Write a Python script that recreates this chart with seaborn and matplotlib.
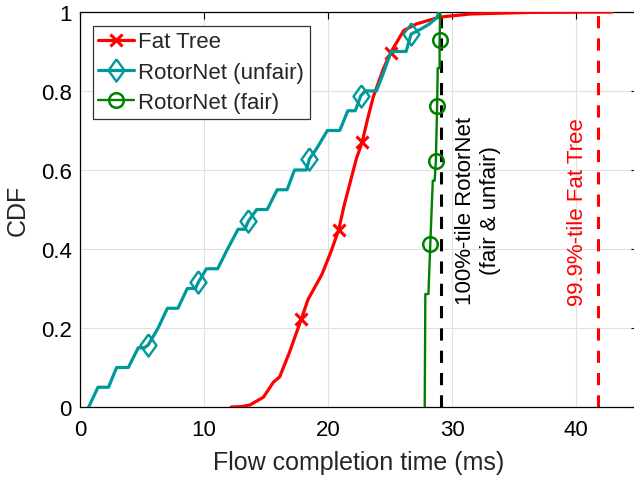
import matplotlib
matplotlib.use("Agg")
import matplotlib.pyplot as plt
import seaborn as sns
import pandas as pd
from matplotlib.ticker import FixedLocator, FixedFormatter

# ---------------- data ----------------
fat_x = [12.2, 13.0, 13.7, 14.8, 15.6, 16.1, 16.9, 17.85, 18.4, 19.5, 20.2, 20.85,
         21.3, 21.8, 22.3, 22.75, 23.2, 23.65, 24.45, 25.05, 26.1, 27.15, 29.0,
         31.5, 36.3, 42.9]
fat_y = [0.0, 0.001, 0.005, 0.025, 0.063, 0.076, 0.139, 0.223, 0.273, 0.335, 0.39, 0.447,
         0.51, 0.57, 0.63, 0.67, 0.73, 0.785, 0.855, 0.897, 0.953, 0.97, 0.987,
         0.995, 0.999, 1.0]
fat_marks = [7, 11, 15, 19]

unfair_x = [0.7, 1.45, 2.3, 2.95, 3.9, 4.7, 5.2, 5.5, 6.3, 7.05, 7.9, 8.65, 9.3, 9.55,
            10.2, 11.1, 11.9, 12.75, 13.3, 13.57, 14.25, 15.1, 15.9, 16.7, 17.3, 18.25,
            18.5, 19.1, 19.95, 20.95, 21.6, 22.2, 22.65, 23.0, 23.9, 24.4, 25.1, 26.3,
            26.7, 27.5, 28.2, 28.8, 28.95]
unfair_y = [0.0, 0.05, 0.05, 0.10, 0.10, 0.15, 0.15, 0.157, 0.20, 0.25, 0.25, 0.30, 0.30, 0.316,
            0.35, 0.35, 0.40, 0.45, 0.45, 0.47, 0.50, 0.50, 0.55, 0.55, 0.60, 0.60,
            0.628, 0.655, 0.70, 0.70, 0.75, 0.75, 0.788, 0.80, 0.80, 0.84, 0.90, 0.90,
            0.944, 0.957, 0.97, 0.987, 1.0]
unfair_marks = [7, 13, 19, 26, 32, 38]

fair_x = [27.8, 27.85, 28.1, 28.25, 28.45, 28.6, 28.7, 28.8, 28.85, 29.0, 29.0, 29.05]
fair_y = [0.0, 0.286, 0.286, 0.413, 0.573, 0.573, 0.624, 0.763, 0.858, 0.858, 0.93, 1.0]
fair_marks = [3, 6, 7, 10]

rotor_p100 = 29.15
fat_p999 = 41.8

series_names = ["Fat Tree", "RotorNet (unfair)", "RotorNet (fair)"]
x_ticks = [0, 10, 20, 30, 40]
y_ticks = [0, 0.2, 0.4, 0.6, 0.8, 1.0]
y_tick_labels = ["0", "0.2", "0.4", "0.6", "0.8", "1"]

# ---------------- style ----------------
sns.set_style("whitegrid")
plt.rcParams["font.family"] = ["Liberation Sans", "DejaVu Sans"]
plt.rcParams["axes.edgecolor"] = "black"
plt.rcParams["grid.color"] = "#e0e0e0"
plt.rcParams["grid.linewidth"] = 0.8

fig = plt.figure(figsize=(6.34, 4.81), dpi=100)
ax = fig.add_axes([80 / 634, 1 - 408 / 481, 558 / 634, 395 / 481])

RED = "#ff0000"
TEAL = "#009999"
GREEN = "#008000"
MATLAB_DIAMOND = [(0, 1), (0.72, 0), (0, -1), (-0.72, 0), (0, 1)]

df_fat = pd.DataFrame({"x": fat_x, "y": fat_y})
df_unf = pd.DataFrame({"x": unfair_x, "y": unfair_y})
df_fair = pd.DataFrame({"x": fair_x, "y": fair_y})

# reference lines
ax.axvline(rotor_p100, color="black", lw=2.2, ls=(0, (4, 3.3)), zorder=2)
ax.axvline(fat_p999, color=RED, lw=2.2, ls=(0, (4, 3.3)), zorder=2)

handles = []
sns.lineplot(data=df_fat, x="x", y="y", ax=ax, estimator=None, sort=False,
             color=RED, lw=2.3, marker="x", markevery=fat_marks, ms=9, mew=2.2,
             mec=RED, zorder=3)
handles.append(ax.lines[-1])
sns.lineplot(data=df_unf, x="x", y="y", ax=ax, estimator=None, sort=False,
             color=TEAL, lw=2.3, marker=MATLAB_DIAMOND, markevery=unfair_marks, ms=16,
             mew=1.7, mfc="none", mec=TEAL, zorder=4)
handles.append(ax.lines[-1])
sns.lineplot(data=df_fair, x="x", y="y", ax=ax, estimator=None, sort=False,
             color=GREEN, lw=1.7, marker="o", markevery=fair_marks, ms=10.5, mew=1.8,
             mfc="none", mec=GREEN, zorder=5)
handles.append(ax.lines[-1])

ax.set_xlim(0, 45)
ax.set_ylim(0, 1)
ax.xaxis.set_major_locator(FixedLocator(x_ticks))
ax.yaxis.set_major_locator(FixedLocator(y_ticks))
ax.yaxis.set_major_formatter(FixedFormatter(y_tick_labels))
ax.tick_params(direction="in", length=5, width=0.8, top=True, right=True,
               labelsize=16, colors="black")
ax.tick_params(axis="x", pad=9)
ax.tick_params(axis="y", pad=6)
for s in ax.spines.values():
    s.set_color("black")
    s.set_linewidth(0.9)

ax.set_xlabel("Flow completion time (ms)", fontsize=18, labelpad=7)
ax.set_ylabel("CDF", fontsize=18, labelpad=8)

ax.text(32.1, 0.50, "100%-tile RotorNet\n(fair & unfair)", rotation=90,
        ha="center", va="center", multialignment="center", fontsize=16, color="black")
ax.text(40.1, 0.497, "99.9%-tile Fat Tree", rotation=90,
        ha="center", va="center", fontsize=16, color=RED)

leg = ax.legend(handles=handles, labels=series_names, loc="upper left",
                bbox_to_anchor=(0.023, 0.965), borderaxespad=0,
                fontsize=16, frameon=True, fancybox=False, framealpha=1,
                edgecolor="#333333", handlelength=1.6, handletextpad=0.2,
                labelspacing=0.42, borderpad=0.25)
leg.get_frame().set_linewidth(0.9)

fig.savefig("out.png", dpi=100)
